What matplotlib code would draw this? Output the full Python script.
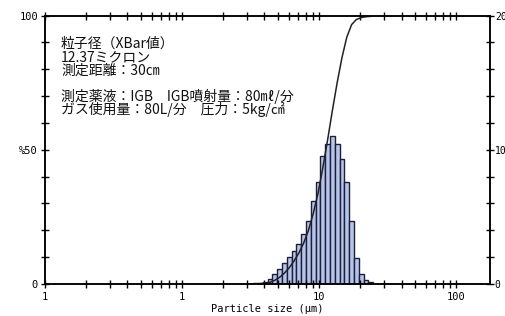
import matplotlib
matplotlib.use("Agg")
import matplotlib.pyplot as plt
import numpy as np
from matplotlib.ticker import FixedLocator, NullFormatter

# bin edges (um) and frequency per bin (%)
edges = [3.05, 3.31, 3.58, 3.89, 4.21, 4.57, 4.95, 5.36, 5.82, 6.30, 6.83,
         7.41, 8.03, 8.70, 9.43, 10.23, 11.09, 12.02, 13.03, 14.12, 15.31,
         16.59, 17.99, 19.50, 21.14, 22.91, 24.84]
freq = [0.02, 0.05, 0.07, 0.15, 0.35, 0.74, 1.1, 1.54, 2.03, 2.45, 2.97,
        3.7, 4.7, 6.2, 7.6, 9.5, 10.4, 11.0, 10.4, 9.3, 7.6, 4.7, 1.93,
        0.74, 0.3, 0.15]

x_ticks = [0.1, 1, 10, 100]
x_labels = ["1", "1", "10", "100"]
left_ticks = list(range(0, 101, 10))
left_labels = ["0", "", "", "", "", "%50", "", "", "", "", "100"]
right_ticks = list(range(0, 21, 2))
right_labels = ["0", "", "", "", "", "10", "", "", "", "", "20"]

info_lines = ["粒子径（XBar値）", "12.37ミクロン", "測定距離：30㎝",
              "測定薬液：IGB　IGB噴射量：80㎖/分",
              "ガス使用量：80L/分　圧力：5kg/㎠"]

# cumulative curve drawn through the bin centres
e = np.array(edges)
centres = np.sqrt(e[:-1] * e[1:])
cum_x = np.concatenate([[e[0]], centres])
cum_y = np.concatenate([[0], np.cumsum(freq)])

W, H = 506, 316
fig = plt.figure(figsize=(W / 100, H / 100), dpi=100)
ax = fig.add_axes([45 / W, 1 - 284 / H, 445 / W, 268.5 / H])
ax2 = ax.twinx()

ax2.bar(edges[:-1], freq, width=np.diff(edges), align="edge",
        color="#b7c4ea", edgecolor="#1c1f38", linewidth=1.0)
ax2.set_ylim(0, 20)

# curve above the bars
ax.set_zorder(ax2.get_zorder() + 1)
ax.patch.set_visible(False)
ax.plot(cum_x, cum_y, color="#222222", lw=1.1)

ax.set_xscale("log")
ax.set_xlim(0.1, 177)
ax.set_ylim(0, 100)

mono = "DejaVu Sans Mono"
ax.xaxis.set_major_locator(FixedLocator(x_ticks))
ax.set_xticklabels(x_labels, family=mono, fontsize=7.5)
minors = [m * d for d in [0.1, 1, 10, 100] for m in range(2, 10) if m * d < 177]
ax.xaxis.set_minor_locator(FixedLocator(minors))
ax.xaxis.set_minor_formatter(NullFormatter())
ax.yaxis.set_major_locator(FixedLocator(left_ticks))
ax.set_yticklabels(left_labels, family=mono, fontsize=7.5)
ax2.yaxis.set_major_locator(FixedLocator(right_ticks))
ax2.set_yticklabels(right_labels, family=mono, fontsize=7)

for a in (ax, ax2):
    for s in a.spines.values():
        s.set_linewidth(1.1)
ax.tick_params(axis="x", which="both", direction="inout", length=6,
               width=1, top=True, pad=3)
ax.tick_params(axis="y", direction="inout", length=6, width=1, pad=2)
ax2.tick_params(axis="y", direction="inout", length=6, width=1, pad=0.5)

ax.set_xlabel("Particle size (µm)", family=mono, fontsize=7.5, labelpad=1)

jp = ["Noto Sans CJK JP", "DejaVu Sans"]
ys = [44, 57.5, 71, 96, 109.5]
for line, y in zip(info_lines, ys):
    fig.text(61 / W, 1 - y / H, line, family=jp, fontsize=10,
             ha="left", va="center", color="#111111")

fig.savefig("out.png", dpi=100)
